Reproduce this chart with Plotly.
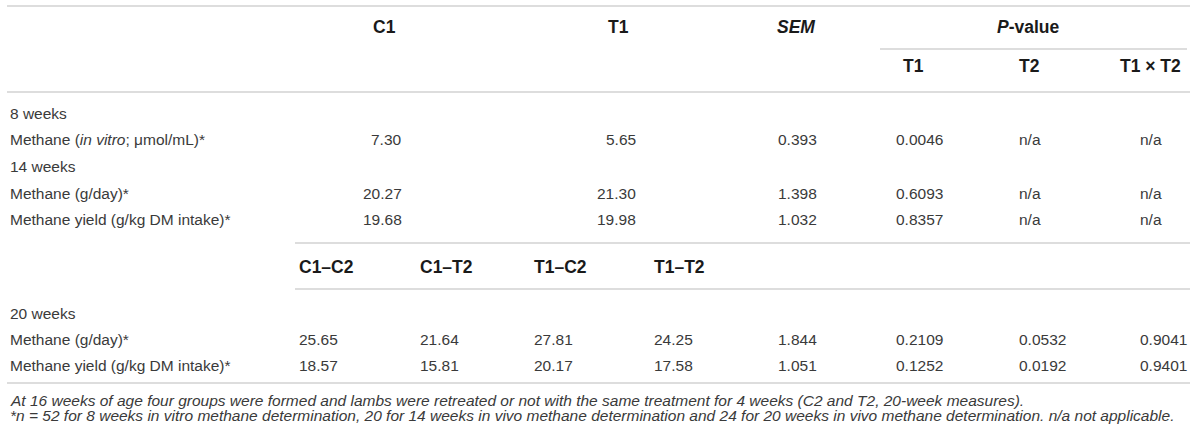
import plotly.graph_objects as go

# column headers
main_heads = ["C1", "T1"]
pval_heads = ["T1", "T2", "T1 × T2"]
late_groups = ["C1–C2", "C1–T2", "T1–C2", "T1–T2"]

# 8 and 14 weeks (C1 vs T1)
early_sections = ["8 weeks", "14 weeks"]
early_labels = ["Methane (<i>in vitro</i>; μmol/mL)*",
                "Methane (g/day)*",
                "Methane yield (g/kg DM intake)*"]
c1 = [7.30, 20.27, 19.68]
t1 = [5.65, 21.30, 19.98]
sem_early = [0.393, 1.398, 1.032]
p_t1_early = [0.0046, 0.6093, 0.8357]
p_t2_early = ["n/a", "n/a", "n/a"]
p_int_early = ["n/a", "n/a", "n/a"]

# 20 weeks (four groups)
late_section = "20 weeks"
late_labels = ["Methane (g/day)*", "Methane yield (g/kg DM intake)*"]
late_values = [[25.65, 21.64, 27.81, 24.25],
               [18.57, 15.81, 20.17, 17.58]]
sem_late = [1.844, 1.051]
p_t1_late = [0.2109, 0.1252]
p_t2_late = [0.0532, 0.0192]
p_int_late = [0.9041, 0.9401]

footnotes = [
    "At 16 weeks of age four groups were formed and lambs were retreated or not "
    "with the same treatment for 4 weeks (C2 and T2, 20-week measures).",
    "*n = 52 for 8 weeks in vitro methane determination, 20 for 14 weeks in vivo "
    "methane determination and 24 for 20 weeks in vivo methane determination. "
    "n/a not applicable.",
]

FONT = "Liberation Sans"
BODY = dict(family=FONT, size=15.5, color="#3a3a3a")
HEAD = dict(family=FONT, size=17.5, color="#1a1a1a")
NOTE = dict(family=FONT, size=15.5, color="#3a3a3a")
LINE = dict(color="#d2d2d2", width=1.5)

# layout positions (pixels)
X_LABEL = 8
X_C1, X_T1 = 404, 638
X_SEM = 819
X_P = [894, 1017, 1138]
X_PHEAD = [913, 1029, 1150]
X_LATE = [297, 418, 532, 652]
Y_EARLY = [113, 139, 166, 193, 219]
Y_LATE = [313, 339, 365]

fig = go.Figure()
ann = []


def txt(x, y, s, font, anchor="left"):
    ann.append(dict(x=x, y=y, text=s, xref="x", yref="y", showarrow=False,
                    xanchor=anchor, yanchor="middle", font=font))


def fmt(v, nd):
    return v if isinstance(v, str) else f"{v:.{nd}f}"


# header
txt(384, 27, f"<b>{main_heads[0]}</b>", HEAD, "center")
txt(618, 27, f"<b>{main_heads[1]}</b>", HEAD, "center")
txt(796, 27, "<b><i>SEM</i></b>", HEAD, "center")
txt(1028, 27, "<b><i>P</i>-value</b>", HEAD, "center")
for x, h in zip(X_PHEAD, pval_heads):
    txt(x, 66, f"<b>{h}</b>", HEAD, "center")

# 8 / 14 weeks block
txt(X_LABEL, Y_EARLY[0], early_sections[0], BODY)
txt(X_LABEL, Y_EARLY[2], early_sections[1], BODY)
for i, y in enumerate([Y_EARLY[1], Y_EARLY[3], Y_EARLY[4]]):
    txt(X_LABEL, y, early_labels[i], BODY)
    txt(X_C1, y, fmt(c1[i], 2), BODY, "right")
    txt(X_T1, y, fmt(t1[i], 2), BODY, "right")
    txt(X_SEM, y, fmt(sem_early[i], 3), BODY, "right")
    txt(X_P[0], y, fmt(p_t1_early[i], 4), BODY)
    txt(X_P[1], y, fmt(p_t2_early[i], 4), BODY)
    txt(X_P[2], y, fmt(p_int_early[i], 4), BODY)

# 20 weeks block
for x, g in zip(X_LATE, late_groups):
    txt(x, 267, f"<b>{g}</b>", HEAD)
txt(X_LABEL, Y_LATE[0], late_section, BODY)
for i, y in enumerate(Y_LATE[1:]):
    txt(X_LABEL, y, late_labels[i], BODY)
    for x, v in zip(X_LATE, late_values[i]):
        txt(x, y, fmt(v, 2), BODY)
    txt(X_SEM, y, fmt(sem_late[i], 3), BODY, "right")
    txt(X_P[0], y, fmt(p_t1_late[i], 4), BODY)
    txt(X_P[1], y, fmt(p_t2_late[i], 4), BODY)
    txt(X_P[2], y, fmt(p_int_late[i], 4), BODY)

# footnotes
txt(X_LABEL, 400, f"<i>{footnotes[0]}</i>", NOTE)
txt(X_LABEL, 415, f"<i>{footnotes[1]}</i>", NOTE)

# rules
shapes = []
for x0, x1, y in [(7, 1190, 6), (880, 1187, 49), (7, 1190, 92),
                  (295, 1190, 243), (295, 1190, 289), (7, 1190, 383)]:
    shapes.append(dict(type="line", xref="x", yref="y", x0=x0, x1=x1,
                       y0=y, y1=y, line=LINE))

fig.update_layout(
    width=1200, height=436,
    margin=dict(l=0, r=0, t=0, b=0),
    paper_bgcolor="white", plot_bgcolor="white",
    annotations=ann, shapes=shapes,
    showlegend=False,
)
fig.update_xaxes(range=[0, 1200], visible=False, fixedrange=True)
fig.update_yaxes(range=[436, 0], visible=False, fixedrange=True)

# page body has a default 8px margin; drop it so the table sits at the edge
fig.write_html("out.html", config={"displayModeBar": False},
               post_script="document.body.style.margin='0';")
